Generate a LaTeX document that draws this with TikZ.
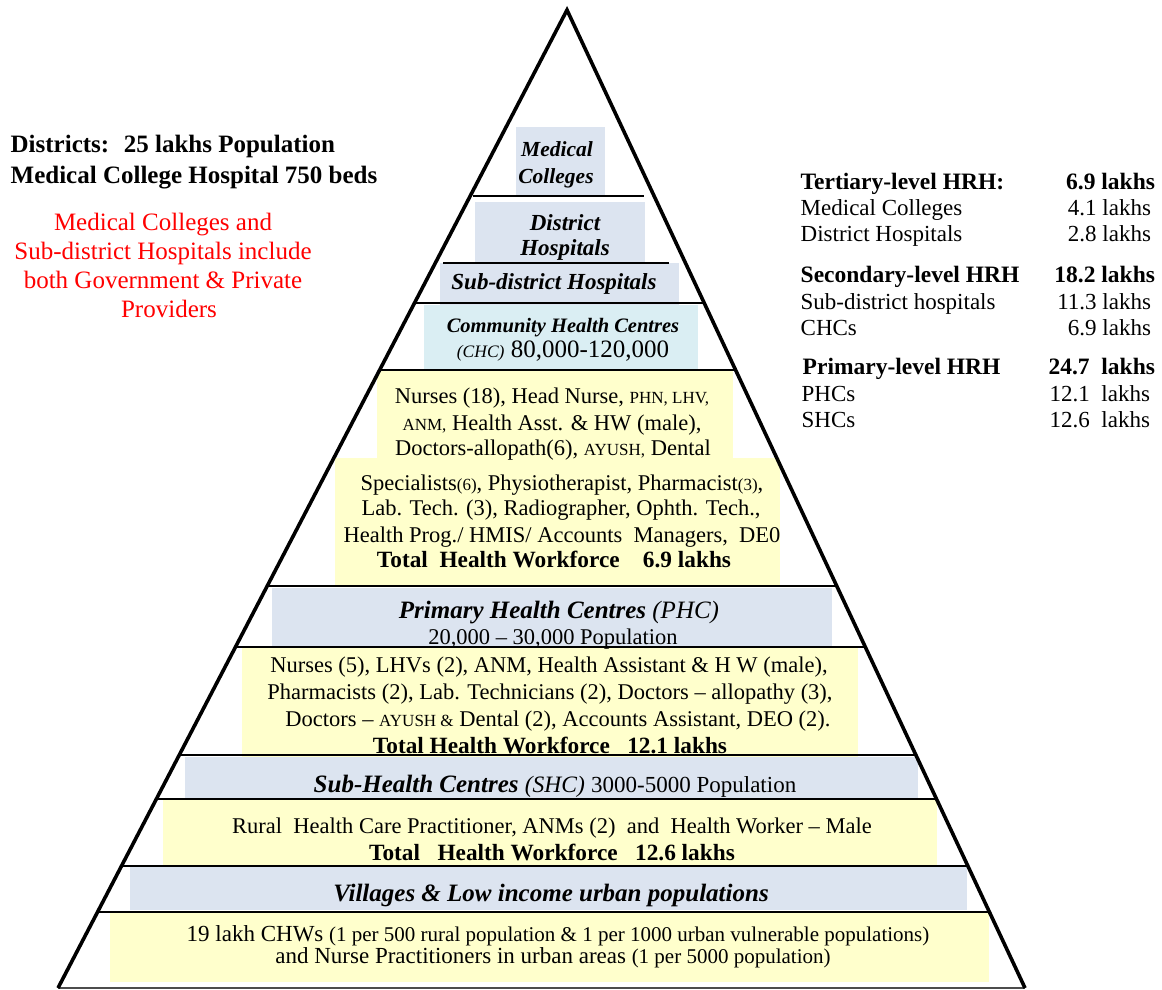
\documentclass[tikz,border=0pt]{standalone}
\usepackage{fontspec}
\setmainfont{Liberation Serif}
\usetikzlibrary{calc}
\definecolor{bandblue}{HTML}{DCE4F0}
\definecolor{bandcyan}{HTML}{DAEEF3}
\definecolor{bandyellow}{HTML}{FFFFCC}
\newcommand{\fR}[1]{\fontsize{#1}{#1}\selectfont}
\newcommand{\fB}[1]{\fontsize{#1}{#1}\selectfont\bfseries}
\newcommand{\fBI}[1]{\fontsize{#1}{#1}\selectfont\bfseries\itshape}
\newcommand{\smr}[1]{{\fontsize{17}{17}\selectfont #1}}
\newcommand{\ital}[2]{{\fontsize{#1}{#1}\selectfont\mdseries\itshape #2}}
\newcommand{\rom}[2]{{\fontsize{#1}{#1}\selectfont\mdseries\upshape #2}}
\newcommand{\tierline}[1]{\draw[sepline] ($(A)!{(#1-10)/978}!(BL)$) -- ($(A)!{(#1-10)/978}!(BR)$);}
\begin{document}
\begin{tikzpicture}[x=1pt,y=-1pt,
  txt/.style={anchor=base,inner sep=0pt,outer sep=0pt},
  lbl/.style={anchor=base west,inner sep=0pt,outer sep=0pt,font=\fR{23}},
  val/.style={anchor=base east,inner sep=0pt,outer sep=0pt,font=\fR{23}},
  sepline/.style={line width=2pt,black},
  tri/.style={line width=3.6pt,black,line join=miter}]
\useasboundingbox (0,0) rectangle (1162,989);
\coordinate (A) at (567,10);
\coordinate (BL) at (58,988);
\coordinate (BR) at (1025,988);

% band fills
\fill[bandblue] (516,127) rectangle (605,196);
\fill[bandblue] (475,202) rectangle (645,263);
\fill[bandblue] (440,263) rectangle (679,305);
\fill[bandcyan] (424,305) rectangle (698,370);
\fill[bandyellow] (377,371) rectangle (733,458);
\fill[bandyellow] (335,458) rectangle (780,585);
\fill[bandblue] (272,588) rectangle (832,646);
\fill[bandyellow] (242,648) rectangle (858,757);
\fill[bandblue] (185,757) rectangle (918,799);
\fill[bandyellow] (163,800) rectangle (937,866);
\fill[bandblue] (130,866) rectangle (967,910);
\fill[bandyellow] (110,913) rectangle (989,982);

% separating lines
\draw[sepline] (473,196) -- (644,196);
\draw[sepline] (443,263) -- (669,263);
\tierline{303}
\tierline{370}
\tierline{586}
\tierline{647}
\tierline{755}
\tierline{799}
\tierline{866}
\tierline{912}
\draw[line width=1.5pt,black!70] (BL) -- (BR);
\draw[tri] (BL) -- (A) -- (BR);

% pyramid texts
\node[txt,font=\fBI{21.5}] (mc1) at (557,156) {Medical};
\node[txt,font=\fBI{21.5}] (mc2) at (556,183) {Colleges};
\node[txt,font=\fBI{23}] (dh1) at (565,230) {District};
\node[txt,font=\fBI{23}] (dh2) at (565,255) {Hospitals};
\node[txt,font=\fBI{23}] (sdh) at (554,289) {Sub-district Hospitals};
\node[txt,font=\fBI{20.5}] (chc1) at (563,332) {Community Health Centres};
\node[txt,font=\fR{25}] (chc2) at (563,357) {\ital{17.5}{(CHC)} 80,000-120,000};

\node[txt,font=\fR{22.5}] (cy1) at (552,403) {Nurses (18), Head Nurse, \smr{PHN, LHV,}};
\node[txt,font=\fR{22.5}] (cy2) at (552,430) {\smr{ANM,} Health Asst. \& HW (male),};
\node[txt,font=\fR{22.5}] (cy3) at (553,455) {Doctors-allopath(6), \smr{AYUSH,} Dental};
\node[txt,font=\fR{22.5}] (cy4) at (562,490) {Specialists\smr{(6)}, Physiotherapist, Pharmacist\smr{(3)},};
\node[txt,font=\fR{22.5}] (cy5) at (561,515) {Lab. Tech. (3), Radiographer, Ophth. Tech.,};
\node[txt,font=\fR{22.5}] (cy6) at (562,542) {Health Prog./ HMIS/ Accounts~ Managers,~ DE0};
\node[txt,font=\fB{23.3}] (cy7) at (554,567) {Total~ Health Workforce~~~ 6.9 lakhs};

\node[txt,font=\fBI{25}] (phc1) at (559,618) {Primary Health Centres \ital{25}{(PHC)}};
\node[txt,font=\fR{22.5}] (phc2) at (553,644) {20,000 -- 30,000 Population};
\node[txt,font=\fR{22.5}] (py1) at (549,672) {Nurses (5), LHVs (2), ANM, Health Assistant \& H W (male),};
\node[txt,font=\fR{22.5}] (py2) at (550,699) {Pharmacists (2), Lab. Technicians (2), Doctors -- allopathy (3),};
\node[txt,font=\fR{22.5}] (py3) at (558,726) {Doctors -- \smr{AYUSH \&} Dental (2), Accounts Assistant, DEO (2).};
\node[txt,font=\fB{23.3}] (py4) at (550,753) {Total Health Workforce~~ 12.1 lakhs};

\node[txt,font=\fBI{25}] (shc) at (555,792) {Sub-Health Centres \ital{23.5}{(SHC)} \rom{23}{3000-5000 Population}};
\node[txt,font=\fR{22.5}] (sy1) at (552,833) {Rural~ Health Care Practitioner, ANMs (2)~ and~ Health Worker -- Male};
\node[txt,font=\fB{23.3}] (sy2) at (552,860) {Total~~ Health Workforce~~ 12.6 lakhs};

\node[txt,font=\fBI{25}] (vil) at (551,901) {Villages \& Low income urban populations};
\node[txt,font=\fR{23}] (by1) at (558,941) {19 lakh CHWs \rom{21}{(1 per 500 rural population \& 1 per 1000 urban vulnerable populations)}};
\node[txt,font=\fR{23}] (by2) at (553,963) {and Nurse Practitioners in urban areas \rom{21}{(1 per 5000 population)}};

% left texts
\node[anchor=base west,inner sep=0pt,font=\fB{25}] (dist1) at (10.5,152) {Districts:~ 25 lakhs Population};
\node[anchor=base west,inner sep=0pt,font=\fB{25}] (dist2) at (10.5,183) {Medical College Hospital 750 beds};
\node[txt,font=\fR{25},text=red] (red1) at (163,230) {Medical Colleges and};
\node[txt,font=\fR{25},text=red] (red2) at (163,259) {Sub-district Hospitals include};
\node[txt,font=\fR{25},text=red] (red3) at (163,288) {both Government \& Private};
\node[txt,font=\fR{25},text=red] (red4) at (169,317) {Providers};

% right column
\node[lbl,font=\fB{23.5}] (t1) at (800.7,189) {Tertiary-level HRH:};
\node[val,font=\fB{23.5}] (t1v) at (1155,189) {6.9 lakhs};
\node[lbl] (t2) at (800.7,215) {Medical Colleges};
\node[val] (t2v) at (1151,215) {4.1 lakhs};
\node[lbl] (t3) at (800.7,241.5) {District Hospitals};
\node[val] (t3v) at (1151,241.5) {2.8 lakhs};
\node[lbl,font=\fB{23.5}] (s1) at (800.7,282.5) {Secondary-level HRH};
\node[val,font=\fB{23.5}] (s1v) at (1155,282.5) {18.2 lakhs};
\node[lbl] (s2) at (800.7,309) {Sub-district hospitals};
\node[val] (s2v) at (1151,309) {11.3 lakhs};
\node[lbl] (s3) at (800.7,335) {CHCs};
\node[val] (s3v) at (1151,335) {6.9 lakhs};
\node[lbl,font=\fB{23.5}] (p1) at (802.7,374) {Primary-level HRH};
\node[val,font=\fB{23.5}] (p1v) at (1155,374) {24.7~ lakhs};
\node[lbl] (p2) at (801.7,401) {PHCs};
\node[val] (p2v) at (1150,401) {12.1~ lakhs};
\node[lbl] (p3) at (801.7,427) {SHCs};
\node[val] (p3v) at (1150,427) {12.6~ lakhs};
\end{tikzpicture}
\end{document}
